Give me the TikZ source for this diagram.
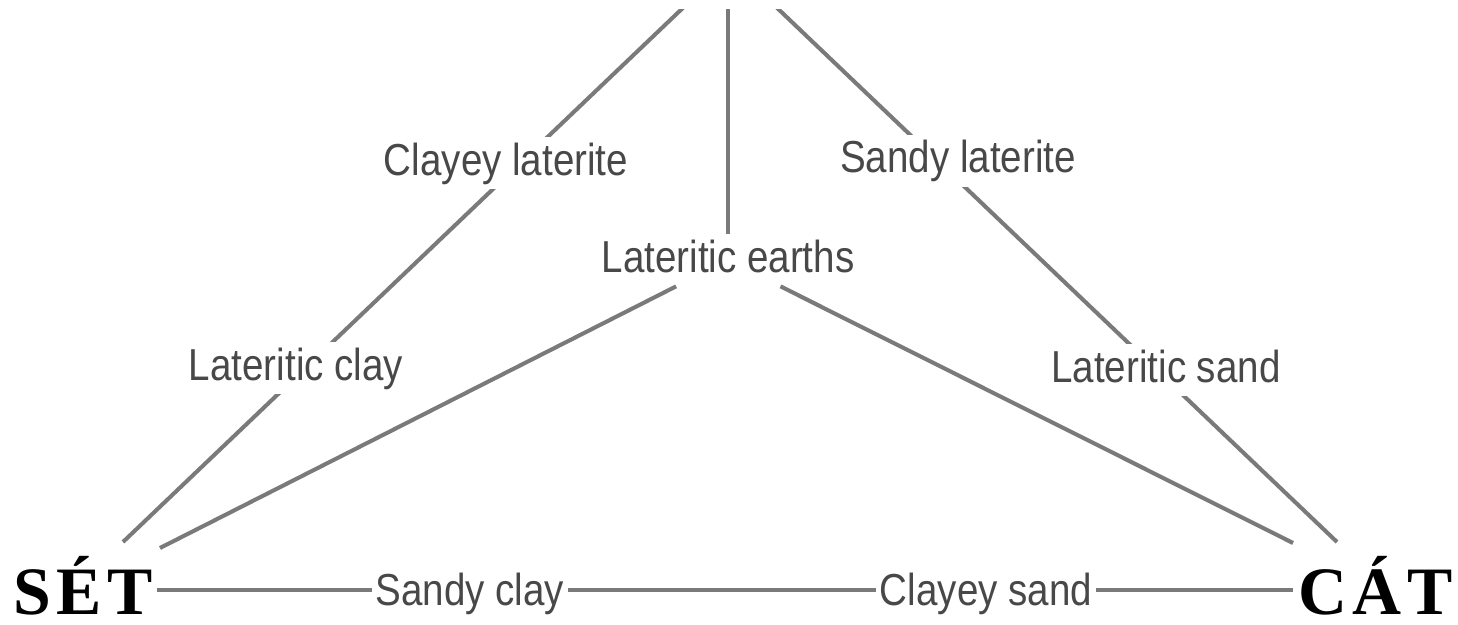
\documentclass[tikz,border=0pt]{standalone}
\usepackage{fontspec}
\setmainfont{Liberation Serif}
\newfontfamily\labelfont[FakeStretch=0.86]{Liberation Sans}
\newfontfamily\cornerfont[LetterSpace=8]{Liberation Serif}
\definecolor{soilline}{RGB}{122,122,122}
\definecolor{soiltext}{RGB}{72,72,72}

\begin{document}
\begin{tikzpicture}[x=0.02cm, y=-0.02cm,
    edge/.style={line width=2.3pt, color=soilline},
    soil/.style={fill=white, text=soiltext, anchor=base,
        font=\labelfont\fontsize{25.5}{30}\selectfont,
        inner xsep=0.08cm, inner ysep=0.1cm, text height=0.66cm, text depth=0.18cm},
    corner/.style={inner sep=0pt, text depth=0pt, font=\cornerfont\bfseries\fontsize{38.6}{44}\selectfont}]
    \useasboundingbox (0,0) rectangle (1458,625);
    \clip (0,10) rectangle (1458,625);

    \coordinate (apex) at (730,-37);
    \coordinate (setedge) at (123,542);
    \coordinate (catedge) at (1337,542);
    \coordinate (setfoot) at (160,548);
    \coordinate (catfoot) at (1293,543);
    \coordinate (baseleft) at (157,590);
    \coordinate (baseright) at (1293,590);

    \draw[edge] (setedge) -- (apex) -- (catedge);
    \draw[edge] (baseleft) -- (baseright);

    \node[corner, anchor=base west] (set) at (13,614) {SÉT};
    \node[corner, anchor=base east] (cat) at (1453,614) {CÁT};
    \node[soil] (clayeylat) at (506,175) {Clayey laterite};
    \node[soil] (sandylat) at (958,173) {Sandy laterite};
    \node[soil] (latclay) at (296,380) {Lateritic clay};
    \node[soil] (latsand) at (1166,382) {Lateritic sand};
    \node[soil] (earths) at (728,272) {Lateritic earths};
    \node[soil] (sandyclay) at (470,605) {Sandy clay};
    \node[soil] (clayeysand) at (986,605) {Clayey sand};

    \draw[edge] (setfoot) -- (earths);
    \draw[edge] (catfoot) -- (earths);
    \draw[edge] (earths) -- (earths |- apex);
\end{tikzpicture}
\end{document}
